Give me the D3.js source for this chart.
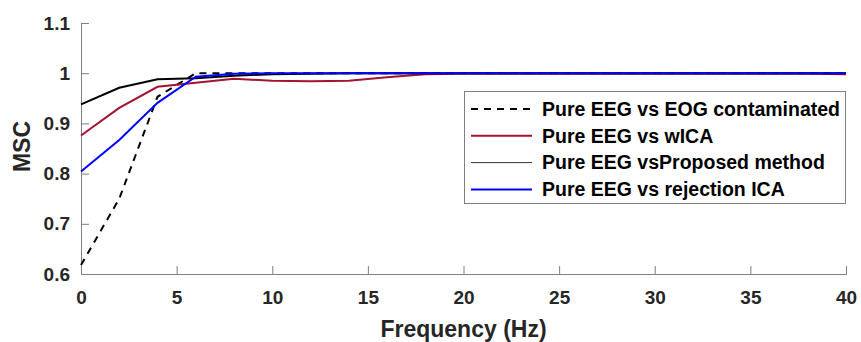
<!DOCTYPE html>
<html>
<head>
<meta charset="utf-8">
<script src="https://cdn.jsdelivr.net/npm/d3@7"></script>
<style>
  body { margin: 0; background: #fff; }
  svg { display: block; font-family: 'Liberation Sans', Arial, sans-serif; font-weight: bold; }
</style>
</head>
<body>
<svg id="chart" width="861" height="342"></svg>
<script>
// frequency bins (Hz)
const freqs = [0, 2, 4, 6, 8, 10, 12, 14, 16, 18, 20, 22, 24, 26, 28, 30, 32, 34, 36, 38, 40]

// MSC values
const contaminated = [0.618, 0.750, 0.953, 1.000, 1.000, 1.000, 1.000, 1.000, 1.000, 1.000, 1.000, 1.000, 1.000, 1.000, 1.000, 1.000, 1.000, 1.000, 1.000, 1.000, 1.000]
const wica = [0.876, 0.931, 0.973, 0.981, 0.989, 0.985, 0.984, 0.985, 0.992, 0.998, 0.999, 0.999, 0.999, 0.999, 0.999, 0.999, 0.999, 0.999, 0.999, 0.999, 0.998]
const proposed = [0.938, 0.971, 0.988, 0.990, 0.995, 0.998, 0.999, 1.000, 1.000, 1.000, 1.000, 1.000, 1.000, 1.000, 1.000, 1.000, 1.000, 1.000, 1.000, 1.000, 1.000]
const rejection = [0.804, 0.867, 0.941, 0.993, 0.999, 1.000, 1.000, 1.000, 1.000, 1.000, 1.000, 1.000, 1.000, 1.000, 1.000, 1.000, 1.000, 1.000, 1.000, 1.000, 1.000]

const xTicks = [0, 5, 10, 15, 20, 25, 30, 35, 40]
const yTicks = [0.6, 0.7, 0.8, 0.9, 1, 1.1]

const seriesNames = ['Pure EEG vs EOG contaminated', 'Pure EEG vs wICA', 'Pure EEG vsProposed method', 'Pure EEG vs rejection ICA']
const seriesValues = [contaminated, wica, proposed, rejection]
const seriesColors = ['#000000', '#a2142f', '#000000', '#0000ff']
const seriesDash = ['7,6', null, null, null]
const legendWidths = [2, 2, 1, 2]

const margin = { left: 81, right: 15, top: 23, bottom: 68 }
const width = 861 - margin.left - margin.right
const height = 342 - margin.top - margin.bottom

const svg = d3.select('#chart')
const g = svg.append('g')
  .attr('id', 'graph-g')
  .attr('transform', `translate(${margin.left},${margin.top})`)

const xScale = d3.scaleLinear().domain([0, 40]).range([0, width])
const yScale = d3.scaleLinear().domain([0.6, 1.1]).range([height, 0])

/**
 * Draws both axes MATLAB-style: inward ticks, no box.
 */
function drawAxes () {
  const xAxis = g.append('g')
    .attr('class', 'x')
    .attr('transform', `translate(0,${height})`)
    .call(d3.axisBottom(xScale).tickValues(xTicks).tickSize(-8).tickPadding(17).tickFormat(d3.format('d')))
  const yAxis = g.append('g')
    .attr('class', 'y')
    .call(d3.axisLeft(yScale).tickValues(yTicks).tickSize(-8).tickPadding(11).tickFormat(d => d3.format('')(+d.toFixed(1))))

  ;[xAxis, yAxis].forEach(ax => {
    ax.select('.domain').attr('stroke', '#808080')
    ax.selectAll('.tick line').attr('stroke', '#808080')
    ax.selectAll('.tick text')
      .attr('fill', '#262626')
      .style('font-size', '19px')
      .style('font-family', "'Liberation Sans', Arial, sans-serif")
      .style('font-weight', 'bold')
  })
  xAxis.selectAll('.tick text').attr('dy', '0.71em')
}

/**
 * Draws one line per series.
 */
function drawLines () {
  const line = d3.line()
    .x((d, i) => xScale(freqs[i]))
    .y(d => yScale(d))

  seriesValues.forEach((values, i) => {
    g.append('path')
      .datum(values)
      .attr('fill', 'none')
      .attr('stroke', seriesColors[i])
      .attr('stroke-width', 2)
      .attr('stroke-dasharray', seriesDash[i])
      .attr('d', line)
  })
}

/**
 * Axis titles.
 */
function drawLabels () {
  svg.append('text')
    .attr('x', margin.left + width / 2)
    .attr('y', 337)
    .attr('text-anchor', 'middle')
    .attr('fill', '#262626')
    .style('font-size', '23px')
    .text('Frequency (Hz)')

  svg.append('text')
    .attr('transform', `translate(30,${margin.top + height / 2 - 2}) rotate(-90)`)
    .attr('text-anchor', 'middle')
    .attr('fill', '#262626')
    .style('font-size', '23px')
    .text('MSC')
}

/**
 * Boxed legend in the upper right.
 */
function drawLegend () {
  const legend = svg.append('g').attr('class', 'legend')
  legend.append('rect')
    .attr('x', 464.5)
    .attr('y', 91.5)
    .attr('width', 381)
    .attr('height', 112)
    .attr('fill', '#fff')
    .attr('stroke', '#808080')

  seriesNames.forEach((name, i) => {
    const y = 109 + i * 26.8
    legend.append('line')
      .attr('x1', 471)
      .attr('x2', 532)
      .attr('y1', y)
      .attr('y2', y)
      .attr('stroke', i === 2 ? '#333' : seriesColors[i])
      .attr('stroke-width', legendWidths[i])
      .attr('stroke-dasharray', seriesDash[i])
    legend.append('text')
      .attr('x', 542)
      .attr('y', y)
      .attr('dy', '0.35em')
      .attr('fill', '#000')
      .style('font-size', '19.5px')
      .text(name)
  })
}

drawAxes()
drawLines()
drawLabels()
drawLegend()
</script>
</body>
</html>
